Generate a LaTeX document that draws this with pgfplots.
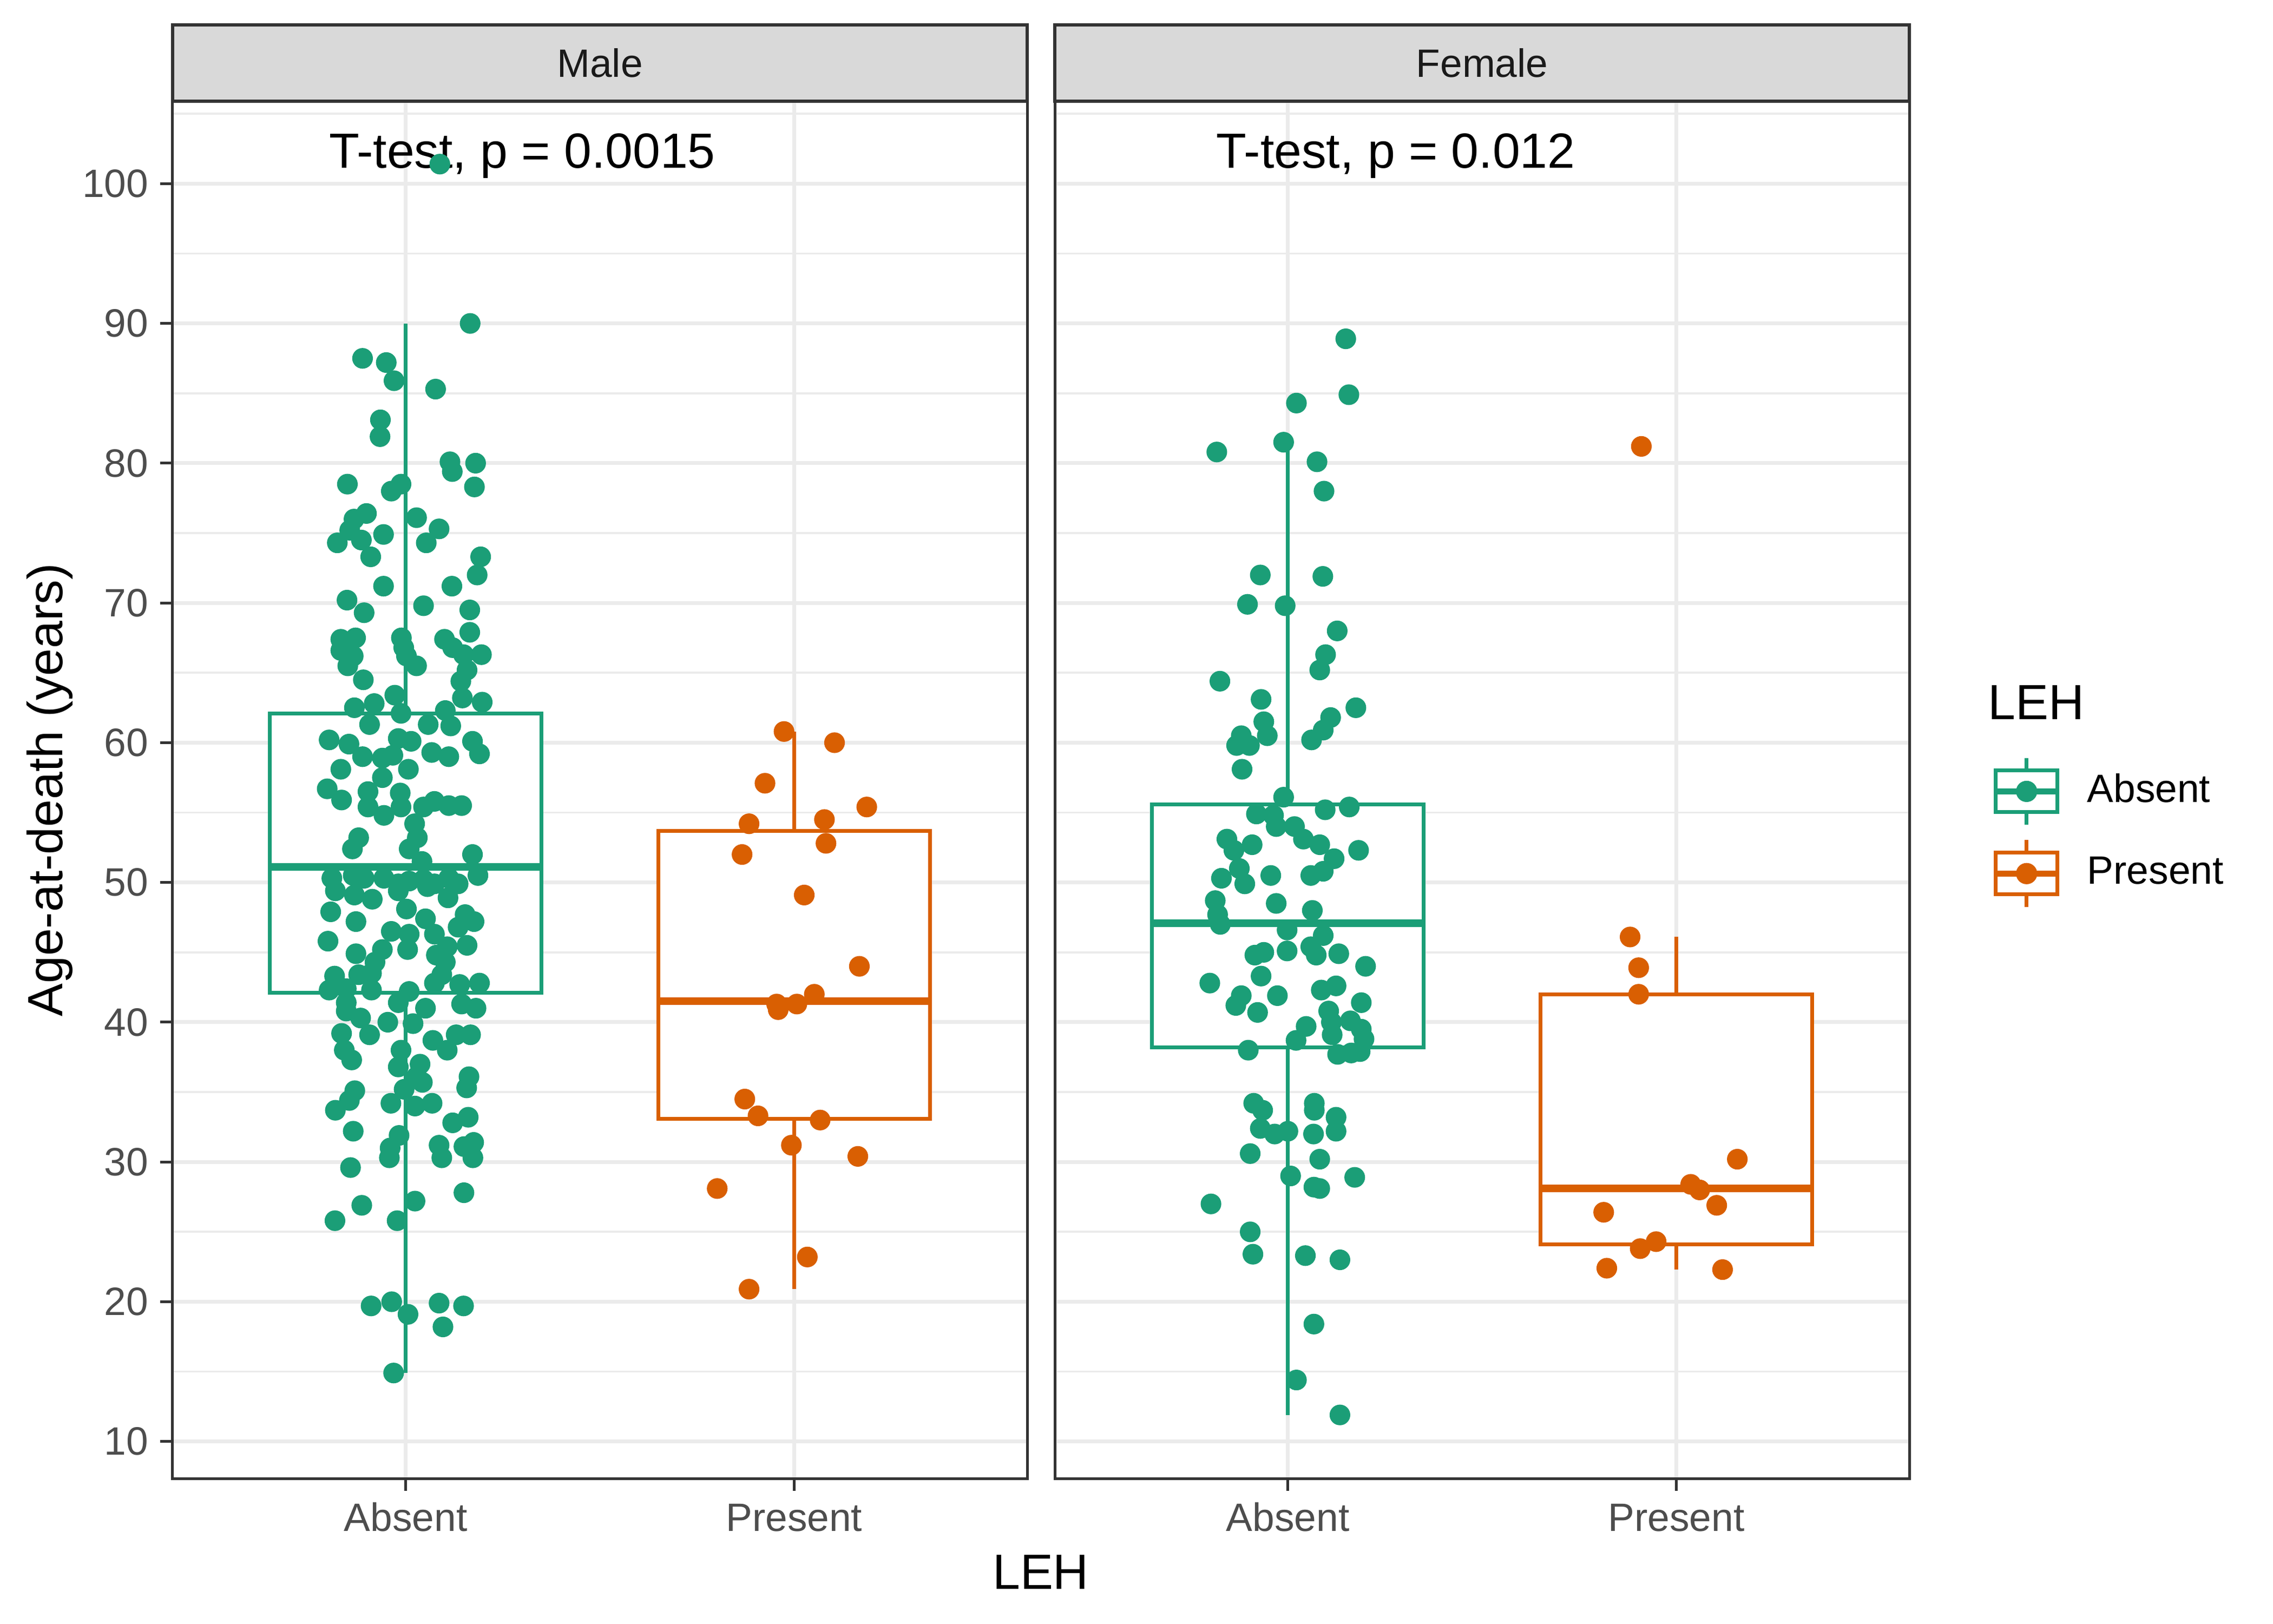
\documentclass[border=0pt]{standalone}
\usepackage{fontspec}
\setmainfont{Liberation Sans}
\usepackage{pgfplots}
\pgfplotsset{compat=1.18}

\definecolor{cgreen}{HTML}{1B9E77}
\definecolor{corange}{HTML}{D95F02}
\definecolor{gridc}{HTML}{EBEBEB}
\definecolor{g20}{HTML}{333333}
\definecolor{g30}{HTML}{4D4D4D}
\definecolor{g85}{HTML}{D9D9D9}
\definecolor{g10}{HTML}{1A1A1A}

\pgfplotsset{
  panel/.style={
    scale only axis, width=6.684cm, height=10.773cm,
    xmin=0.4, xmax=2.6, ymin=7.35, ymax=105.9,
    xtick={1,2}, xticklabels={Absent,Present},
    ytick={10,20,...,100}, minor ytick={15,25,...,105},
    xmajorgrids, ymajorgrids, yminorgrids,
    major grid style={draw=gridc, line width=0.85pt},
    minor grid style={draw=gridc, line width=0.45pt},
    axis line style={draw=g20, line width=0.6pt},
    tick align=outside, tick pos=left,
    major tick length=0.095cm, minor tick length=0pt,
    tick style={draw=g20, line width=0.6pt},
    tick label style={font=\fontsize{8.8}{10}\selectfont, text=g30},
    xticklabel style={inner sep=2.4pt, text height=6.4pt, text depth=0pt},
    yticklabel style={inner sep=2.5pt},
    /pgf/number format/assume math mode=true,
  },
  jit/.style={only marks, mark=*, mark size=2.1pt, color=#1, mark options={draw=none, fill=#1}},
  bxline/.style={draw=#1, line width=0.85pt, mark=none, solid},
  bxbox/.style={draw=#1, fill=white, line width=0.85pt, mark=none, solid},
  bxmed/.style={draw=#1, line width=1.7pt, mark=none, solid},
}

\begin{document}
\begin{tikzpicture}
\useasboundingbox (-1.350,-1.134) rectangle (16.428,11.565);
\coordinate (p1) at (0cm,0cm);
\coordinate (p2) at (6.900cm,0cm);

% ---------------- Male ----------------
\begin{axis}[panel, at={(p1)}, anchor=south west, name=male]
% Absent box: Q1 42.1, med 51.1, Q3 62.1, whiskers 14.9 - 90.0
\addplot[bxline=cgreen] coordinates {(1,62.1) (1,90.0)};
\addplot[bxline=cgreen] coordinates {(1,42.1) (1,14.9)};
\addplot[bxbox=cgreen] coordinates {(0.65,42.1) (1.35,42.1) (1.35,62.1) (0.65,62.1)} --cycle;
\addplot[bxmed=cgreen] coordinates {(0.65,51.1) (1.35,51.1)};
% Present box: Q1 33.1, med 41.5, Q3 53.7, whiskers 20.9 - 60.8
\addplot[bxline=corange] coordinates {(2,53.7) (2,60.8)};
\addplot[bxline=corange] coordinates {(2,33.1) (2,20.9)};
\addplot[bxbox=corange] coordinates {(1.65,33.1) (2.35,33.1) (2.35,53.7) (1.65,53.7)} --cycle;
\addplot[bxmed=corange] coordinates {(1.65,41.5) (2.35,41.5)};
\addplot[jit=cgreen] coordinates {
(1.088,101.4)
(1.166,90.0)(0.889,87.5)(0.950,87.2)(0.970,85.9)(1.077,85.3)(0.935,83.1)(0.934,81.9)(1.114,80.1)(1.120,79.4)(1.180,80.0)
(1.177,78.3)(0.850,78.5)(0.963,78.0)(0.988,78.5)(0.899,76.4)(0.867,76.0)(0.856,75.2)(0.824,74.3)(0.886,74.5)(0.943,74.9)
(0.910,73.3)(1.028,76.1)(1.053,74.3)(1.086,75.3)(1.193,73.3)(1.184,72.0)(1.119,71.2)(0.943,71.2)(1.046,69.8)(0.849,70.2)
(0.893,69.3)(0.833,67.4)(0.871,67.5)(0.989,67.5)(0.995,66.8)(1.100,67.4)(1.165,69.5)(1.165,67.9)(1.121,66.8)
(0.833,66.6)(0.865,66.2)(0.851,65.5)(0.891,64.5)(1.002,66.2)(1.028,65.5)(1.149,66.3)(1.195,66.3)(1.158,65.2)(1.142,64.4)
(1.146,63.2)(1.197,62.9)(0.868,62.5)(0.919,62.8)(0.972,63.4)(0.988,62.1)(0.907,61.3)(1.102,62.3)(1.058,61.3)(1.116,61.2)
(0.803,60.2)(0.854,59.9)(0.981,60.3)(1.014,60.1)(0.889,59.0)(0.833,58.1)(0.940,58.9)(0.940,57.5)(1.007,58.1)(0.967,59.1)
(1.067,59.3)(1.111,59.0)(1.172,60.1)(1.190,59.2)(0.798,56.7)(0.835,55.9)(0.903,56.5)(0.903,55.4)(0.944,54.8)(0.986,56.4)
(0.988,55.4)(1.046,55.4)(1.074,55.8)(1.111,55.5)(1.144,55.5)(1.023,54.2)(1.030,53.2)(1.009,52.4)(0.879,53.2)(0.863,52.4)
(1.172,52.0)(1.042,51.5)
(0.810,50.3)(0.865,50.5)(0.893,50.3)(0.944,50.3)(0.981,49.9)(1.009,50.1)(1.046,50.2)(1.074,49.9)(1.111,50.3)(1.135,49.9)
(1.186,50.5)(0.819,49.4)(0.868,49.1)(0.914,48.8)(0.981,49.4)(1.002,48.1)(1.056,49.7)(1.109,48.9)(0.807,47.9)(0.872,47.2)
(0.800,45.8)(0.963,46.5)(1.009,46.3)(1.051,47.4)(1.074,46.3)(1.107,45.4)(1.005,45.2)(0.940,45.2)(1.153,47.7)(1.176,47.2)
(1.135,46.8)(1.158,45.5)(0.872,44.9)(0.921,44.3)(1.079,44.8)(1.102,44.3)(1.093,43.4)(1.074,42.8)(0.817,43.3)(0.879,43.4)
(0.912,43.5)(0.803,42.3)(0.847,42.4)(0.912,42.3)(1.009,42.2)(0.981,41.4)(1.051,41.0)(1.139,42.7)(1.190,42.8)(1.144,41.3)
(1.181,41.0)(0.847,41.4)(0.847,40.8)(0.884,40.3)(0.954,40.0)(1.019,39.9)(0.907,39.1)(0.835,39.2)(0.842,38.0)(0.861,37.3)
(1.070,38.7)(1.107,38.0)(1.130,39.1)(1.167,39.1)(0.988,38.0)(0.981,36.8)(1.037,37.0)(1.028,36.1)(1.163,36.1)
(0.869,35.1)(0.855,34.4)(0.819,33.7)(0.962,34.2)(0.996,35.2)(1.024,34.0)(1.068,34.2)(1.043,35.7)(1.157,35.3)(1.161,33.2)
(1.121,32.8)(0.865,32.2)(0.983,31.9)(0.960,31.0)(0.958,30.3)(1.086,31.2)(1.093,30.3)(1.150,31.1)(1.175,31.4)(1.173,30.3)
(0.858,29.6)(1.150,27.8)(1.024,27.2)(0.887,26.9)(0.818,25.8)(0.978,25.8)
(0.911,19.7)(0.964,20.0)(1.006,19.1)(1.086,19.9)(1.149,19.7)(1.096,18.2)(0.969,14.9)
};
\addplot[jit=corange] coordinates {
(1.974,60.8)(2.104,60.0)(1.925,57.1)(2.078,54.5)(1.884,54.2)(2.187,55.4)(2.082,52.8)(1.866,52.0)(2.026,49.1)(2.168,44.0)
(2.052,42.0)(2.007,41.3)(1.955,41.3)(1.959,40.9)(1.873,34.5)(1.907,33.3)(2.067,33.0)(1.993,31.2)(2.164,30.4)(1.802,28.1)
(2.034,23.2)(1.884,20.9)
};
\node[anchor=base west, inner sep=0pt, font=\fontsize{11}{13}\selectfont] at (axis cs:0.801,101.1) {T-test, p = 0.0015};
\end{axis}
\draw[fill=g85, draw=g20, line width=0.65pt] (male.north west) rectangle ([yshift=0.597cm]male.north east);
\node[font=\fontsize{8.8}{10}\selectfont, text=g10] at ([yshift=0.2985cm]male.north) {Male};

% ---------------- Female ----------------
\begin{axis}[panel, at={(p2)}, anchor=south west, name=female,
  yticklabels={}, ytick style={draw opacity=0},
  legend style={at={(1.0976,0.5246)}, anchor=north west, draw=none, fill=none,
    inner sep=0pt, outer sep=0pt, row sep=0.089cm, column sep=0.21cm,
    nodes={inner sep=0pt, font=\fontsize{8.8}{10}\selectfont, text=black}},
  legend cell align=left]
\addlegendimage{legend image code/.code={
  \draw[cgreen, line width=0.85pt] (0.2415cm,0.163cm) -- (0.2415cm,0.262cm);
  \draw[cgreen, line width=0.85pt] (0.2415cm,-0.163cm) -- (0.2415cm,-0.262cm);
  \draw[cgreen, line width=0.85pt, fill=white] (0cm,-0.163cm) rectangle (0.483cm,0.163cm);
  \draw[cgreen, line width=1.3pt] (0cm,0cm) -- (0.483cm,0cm);
  \fill[cgreen] (0.2415cm,0cm) circle (0.076cm);
}}
\addlegendentry{Absent}
\addlegendimage{legend image code/.code={
  \draw[corange, line width=0.85pt] (0.2415cm,0.163cm) -- (0.2415cm,0.262cm);
  \draw[corange, line width=0.85pt] (0.2415cm,-0.163cm) -- (0.2415cm,-0.262cm);
  \draw[corange, line width=0.85pt, fill=white] (0cm,-0.163cm) rectangle (0.483cm,0.163cm);
  \draw[corange, line width=1.3pt] (0cm,0cm) -- (0.483cm,0cm);
  \fill[corange] (0.2415cm,0cm) circle (0.076cm);
}}
\addlegendentry{Present}
% Absent box: Q1 38.2, med 47.1, Q3 55.6, whiskers 11.9 - 81.5
\addplot[bxline=cgreen, forget plot] coordinates {(1,55.6) (1,81.5)};
\addplot[bxline=cgreen, forget plot] coordinates {(1,38.2) (1,11.9)};
\addplot[bxbox=cgreen, forget plot] coordinates {(0.65,38.2) (1.35,38.2) (1.35,55.6) (0.65,55.6)} --cycle;
\addplot[bxmed=cgreen, forget plot] coordinates {(0.65,47.1) (1.35,47.1)};
% Present box: Q1 24.1, med 28.1, Q3 42.0, whiskers 22.3 - 46.1
\addplot[bxline=corange, forget plot] coordinates {(2,42.0) (2,46.1)};
\addplot[bxline=corange, forget plot] coordinates {(2,24.1) (2,22.3)};
\addplot[bxbox=corange, forget plot] coordinates {(1.65,24.1) (2.35,24.1) (2.35,42.0) (1.65,42.0)} --cycle;
\addplot[bxmed=corange, forget plot] coordinates {(1.65,28.1) (2.35,28.1)};
\addplot[jit=cgreen, forget plot] coordinates {
(1.149,88.9)(1.022,84.3)(1.157,84.9)(0.817,80.8)(0.989,81.5)(1.075,80.1)(1.093,78.0)(0.929,72.0)(1.090,71.9)(0.896,69.9)
(0.993,69.8)(1.127,68.0)(1.097,66.3)(1.082,65.2)(0.825,64.4)(0.931,63.1)
(0.938,61.5)(0.947,60.5)(0.880,60.5)(0.868,59.8)(0.901,59.8)(0.882,58.1)(1.175,62.5)(1.110,61.8)(1.091,60.9)(1.061,60.2)
(0.989,56.1)(1.096,55.2)(1.158,55.4)(0.919,54.9)(0.963,54.8)(0.970,54.0)(1.017,54.0)(1.040,53.1)(1.082,52.7)(1.119,51.7)
(1.091,50.8)(1.059,50.5)(1.182,52.3)(0.843,53.1)(0.861,52.3)(0.908,52.7)(0.875,51.0)(0.829,50.3)(0.889,49.9)(0.956,50.5)
(0.813,48.7)(0.819,47.7)(0.970,48.5)(1.063,48.0)
(0.826,47.0)(0.998,46.6)(1.091,46.2)(1.059,45.4)(1.073,44.8)(1.131,44.9)(1.200,44.0)(0.915,44.8)(0.938,45.0)(0.998,45.1)
(0.931,43.3)(0.799,42.8)(0.880,41.9)(0.866,41.2)(0.973,41.9)(0.922,40.7)(1.086,42.3)(1.124,42.6)(1.189,41.4)(1.105,40.8)
(1.112,40.0)(1.114,39.1)(1.161,40.1)(1.189,39.5)(1.196,38.8)(1.047,39.7)(1.021,38.7)(0.898,38.0)(1.128,37.7)(1.163,37.8)
(1.186,37.9)(0.912,34.2)(0.935,33.7)(1.068,34.2)(1.068,33.7)(1.124,33.2)(1.124,32.2)(0.929,32.4)(0.966,32.0)(1.000,32.2)
(1.066,32.0)
(0.903,30.6)(1.082,30.2)(1.172,28.9)(1.007,29.0)(1.067,28.2)(1.082,28.1)(0.802,27.0)(0.903,25.0)(0.910,23.4)(1.045,23.3)
(1.134,23.0)(1.067,18.4)(1.022,14.4)(1.134,11.9)
};
\addplot[jit=corange, forget plot] coordinates {
(1.910,81.2)(1.881,46.1)(1.903,43.9)(1.903,42.0)(2.157,30.2)(2.037,28.4)(2.060,28.0)(1.813,26.4)(2.104,26.9)(1.948,24.3)
(1.907,23.8)(1.821,22.4)(2.119,22.3)
};
\node[anchor=base west, inner sep=0pt, font=\fontsize{11}{13}\selectfont] at (axis cs:0.814,101.1) {T-test, p = 0.012};
\end{axis}
\draw[fill=g85, draw=g20, line width=0.65pt] (female.north west) rectangle ([yshift=0.597cm]female.north east);
\node[font=\fontsize{8.8}{10}\selectfont, text=g10] at ([yshift=0.2985cm]female.north) {Female};

% axis titles and legend title
\node[rotate=90, font=\fontsize{11}{13}\selectfont] at (-0.96cm,5.386cm) {Age-at-death (years)};
\node[anchor=base, font=\fontsize{11}{13}\selectfont] at (6.790cm,-0.864cm) {LEH};
\node[anchor=base west, inner sep=0pt, font=\fontsize{11}{13}\selectfont] at (14.193cm,5.939cm) {LEH};
\end{tikzpicture}
\end{document}
